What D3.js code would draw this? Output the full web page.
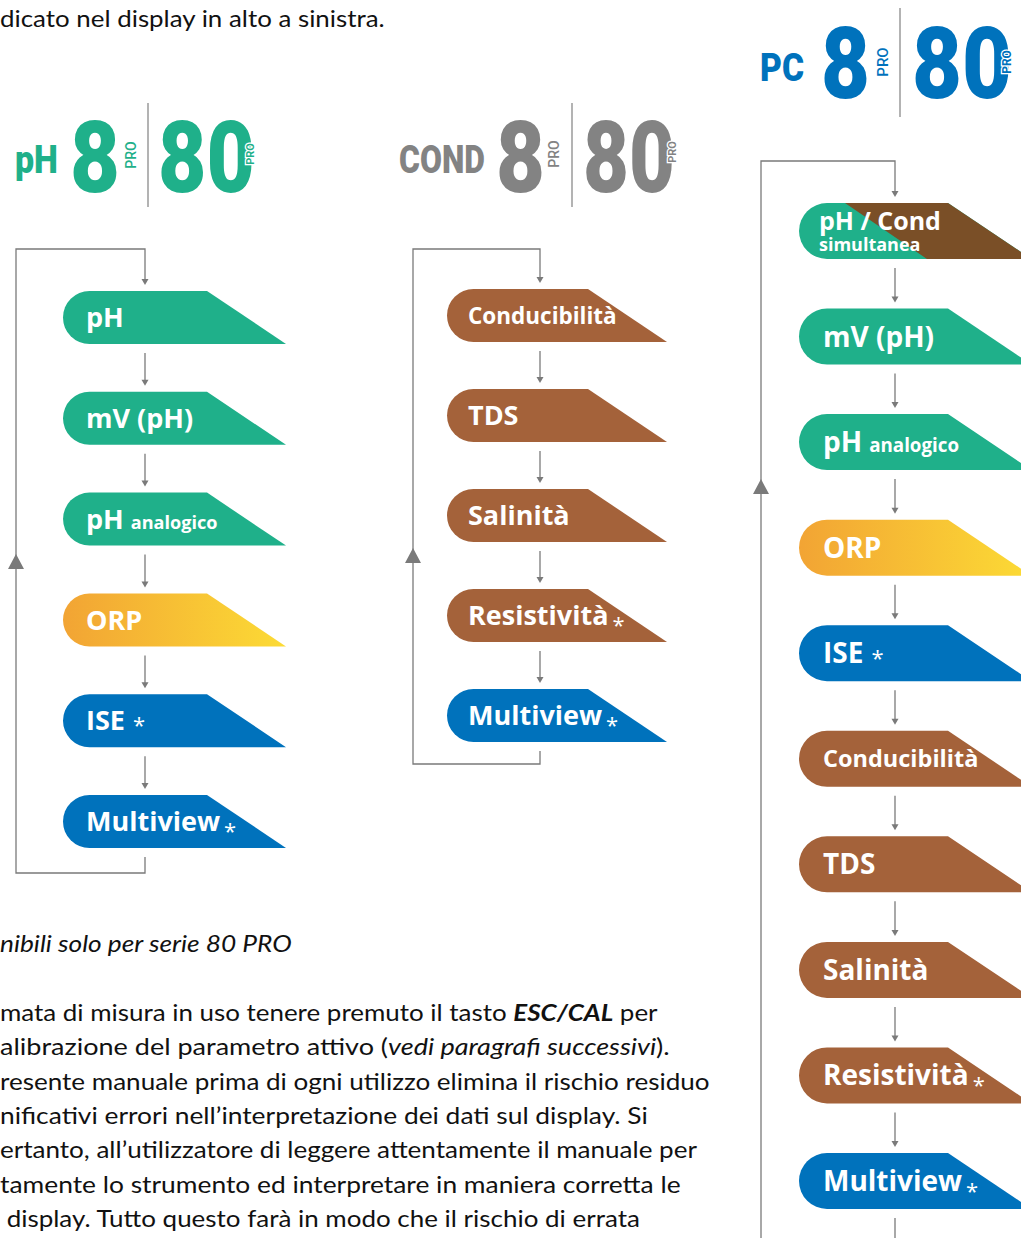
<!DOCTYPE html>
<html><head><meta charset="utf-8">
<script src="https://cdn.jsdelivr.net/npm/d3@7"></script>
<style>
html,body{margin:0;padding:0;background:#fff;}
svg{display:block;}
</style></head><body>
<svg id="chart" width="1021" height="1238"></svg>
<script>
// ---------------- data ----------------
const phModes = ["pH", "mV (pH)", "pH analogico", "ORP", "ISE *", "Multiview *"];
const condModes = ["Conducibilità", "TDS", "Salinità", "Resistività *", "Multiview *"];
const pcModes = ["pH / Cond simultanea", "mV (pH)", "pH analogico", "ORP", "ISE *",
                 "Conducibilità", "TDS", "Salinità", "Resistività *", "Multiview *"];
const families = ["ph", "orp", "ise", "cond", "phcond"];
const modeFamily = {
  "pH": "ph", "mV (pH)": "ph", "pH analogico": "ph", "ORP": "orp", "ISE *": "ise",
  "Multiview *": "ise", "Conducibilità": "cond", "TDS": "cond", "Salinità": "cond",
  "Resistività *": "cond", "pH / Cond simultanea": "phcond"
};
const modelNames = ["pH", "COND", "PC"];
const seriesNames = ["8", "80"];
const seriesTag = "PRO";
const introLines = ["dicato nel display in alto a sinistra."];
const footnoteLines = ["nibili solo per serie 80 PRO"];
const paragraphLines = [
  [["mata di misura in uso tenere premuto il tasto ", ""], ["ESC/CAL", "bi"], [" per", ""]],
  [["alibrazione del parametro attivo (", ""], ["vedi paragrafi successivi", "i"], [").", ""]],
  [["resente manuale prima di ogni utilizzo elimina il rischio residuo", ""]],
  [["nificativi errori nell’interpretazione dei dati sul display. Si", ""]],
  [["ertanto, all’utilizzatore di leggere attentamente il manuale per", ""]],
  [["tamente lo strumento ed interpretare in maniera corretta le", ""]],
  [[" display. Tutto questo farà in modo che il rischio di errata", ""]]
];

// ---------------- styles / layout ----------------
const TEAL = "#1fb08a", BROWN = "#a4623a", DARKBROWN = "#7a4f27", BLUE = "#0072bc";
const GREY_TXT = "#838383", LINE = "#7a7a7a";
const svg = d3.select("#chart");
const defs = svg.append("defs");
const grad = defs.append("linearGradient").attr("id", "orpGrad")
  .attr("x1", 0).attr("x2", 1).attr("y1", 0).attr("y2", 0);
grad.append("stop").attr("offset", "0%").attr("stop-color", "#f2a434");
grad.append("stop").attr("offset", "100%").attr("stop-color", "#fcdb35");

const famColor = d3.scaleOrdinal().domain(families)
  .range([TEAL, "url(#orpGrad)", BLUE, BROWN, TEAL]);

const LABEL_FONT = "'Open Sans', 'Noto Sans', sans-serif";
const BODY_FONT = "Lato, 'Open Sans', sans-serif";
const HEAD_FONT = "Roboto, 'Liberation Sans', sans-serif";

// text fitted horizontally to a given width by a scale transform
function fitText(g, str, x, base, width, size, weight, color) {
  const t = g.append("text").text(str).attr("font-family", HEAD_FONT)
    .attr("font-weight", weight).attr("font-size", size).attr("fill", color);
  const bb = t.node().getBBox();
  const k = width / bb.width;
  t.attr("transform", `translate(${x - bb.x * k},${base}) scale(${k},1)`);
  return t;
}

// ---------------- headers ----------------
const headers = [
  {name: modelNames[0], color: TEAL, lx: 15, lw: 43, lbase: 173, lfs: 39,
   ex: 70, ew: 50, dbase: 192, dfs: 101, p1x: 136, p1y: 155, p1fs: 14,
   divx: 148, divt: 103, divb: 207, eyx: 158, eyw: 97, p2x: 254, p2y: 154, p2fs: 11},
  {name: modelNames[1], color: GREY_TXT, lx: 399, lw: 86, lbase: 173, lfs: 39,
   ex: 496, ew: 49, dbase: 192, dfs: 101, p1x: 559, p1y: 154, p1fs: 14,
   divx: 572, divt: 103, divb: 207, eyx: 583, eyw: 92, p2x: 676, p2y: 152, p2fs: 11},
  {name: modelNames[2], color: BLUE, lx: 760, lw: 44, lbase: 81, lfs: 39,
   ex: 821, ew: 49, dbase: 98, dfs: 101, p1x: 888, p1y: 62, p1fs: 15,
   divx: 900, divt: 8, divb: 117, eyx: 912, eyw: 100, p2x: 1011, p2y: 62, p2fs: 12}
];

headers.forEach(hd => {
  const g = svg.append("g");
  fitText(g, hd.name, hd.lx, hd.lbase, hd.lw, hd.lfs, 900, hd.color);
  fitText(g, seriesNames[0], hd.ex, hd.dbase, hd.ew, hd.dfs, 900, hd.color);
  g.append("text").attr("transform", `translate(${hd.p1x},${hd.p1y}) rotate(-90)`)
    .attr("text-anchor", "middle").text(seriesTag)
    .attr("font-family", HEAD_FONT).attr("font-weight", 500).attr("font-size", hd.p1fs)
    .attr("fill", hd.color);
  g.append("line").attr("x1", hd.divx).attr("x2", hd.divx).attr("y1", hd.divt).attr("y2", hd.divb)
    .attr("stroke", "#9a9a9a").attr("stroke-width", 1.5);
  fitText(g, seriesNames[1], hd.eyx, hd.dbase, hd.eyw, hd.dfs, 900, hd.color);
  g.append("text").attr("transform", `translate(${hd.p2x},${hd.p2y}) rotate(-90)`)
    .attr("text-anchor", "middle").text(seriesTag)
    .attr("font-family", HEAD_FONT).attr("font-weight", 700).attr("font-size", hd.p2fs)
    .attr("fill", hd.color).attr("stroke", "#fff").attr("stroke-width", 2.5)
    .attr("paint-order", "stroke");
});

// ---------------- flow columns ----------------
const columns = [
  {modes: phModes, left: 63, slant: 144, h: 53, top0: 291, topN: 795, cx: 145,
   loopX: 16, loopTop: 249, loopBottom: 873, triY: 562, fs: 27, textX: 86},
  {modes: condModes, left: 447, slant: 141, h: 53, top0: 289, topN: 689, cx: 540,
   loopX: 413, loopTop: 249, loopBottom: 764, triY: 556, fs: 27, textX: 468},
  {modes: pcModes, left: 799, slant: 149, h: 56, top0: 203, topN: 1153, cx: 895,
   loopX: 761, loopTop: 161, loopBottom: 1270, triY: 487, fs: 28, textX: 823}
];
const SLOPE = 79 / 53;

function shapePath(l, d, t, h) {
  const r = h / 2, rgt = d + SLOPE * h;
  return `M${l + r},${t}L${d},${t}L${rgt},${t + h}L${l + r},${t + h}A${r},${r} 0 0 1 ${l + r},${t}Z`;
}

function arrowHead(g, x, tip, w, hh) {
  g.append("path").attr("d", `M${x - w / 2},${tip - hh}L${x + w / 2},${tip - hh}L${x},${tip}Z`)
    .attr("fill", LINE);
}

columns.forEach((col, ci) => {
  const g = svg.append("g");
  const y = d3.scalePoint().domain(col.modes).range([col.top0, col.topN]);
  const n = col.modes.length;
  const diagX = col.left + col.slant;

  // connectors between consecutive modes
  d3.pairs(col.modes).forEach(([a, b]) => {
    const y0 = y(a) + col.h + 9, tip = y(b) - 6;
    g.append("line").attr("x1", col.cx).attr("x2", col.cx).attr("y1", y0).attr("y2", tip - 5)
      .attr("stroke", LINE).attr("stroke-width", 1.3);
    arrowHead(g, col.cx, tip, 7, 6);
  });

  // loop back
  const last = col.modes[n - 1], first = col.modes[0];
  g.append("path")
    .attr("d", `M${col.cx},${y(last) + col.h + 9}V${col.loopBottom}H${col.loopX}V${col.loopTop}H${col.cx}V${y(first) - 11}`)
    .attr("fill", "none").attr("stroke", LINE).attr("stroke-width", 1.3);
  arrowHead(g, col.cx, y(first) - 6, 7, 6);
  g.append("path")
    .attr("d", `M${col.loopX - 8},${col.triY + 7}L${col.loopX + 8},${col.triY + 7}L${col.loopX},${col.triY - 8}Z`)
    .attr("fill", LINE);

  // shapes
  col.modes.forEach((m, mi) => {
    const t = y(m), fam = modeFamily[m];
    const d = shapePath(col.left, diagX, t, col.h);
    g.append("path").attr("d", d).attr("fill", famColor(fam));
    if (fam === "phcond") {
      const cid = `clip${ci}_${mi}`;
      defs.append("clipPath").attr("id", cid).append("path").attr("d", d);
      g.append("path")
        .attr("d", `M${col.left + 46},${t}L${col.left + 260},${t}L${col.left + 260},${t + col.h}L${col.left + 128},${t + col.h}Z`)
        .attr("fill", DARKBROWN).attr("clip-path", `url(#${cid})`);
    }
    const fs = m === "Conducibilità" ? col.fs - 4.5 : col.fs;
    const base = t + col.h / 2 + 0.357 * fs;
    const txt = g.append("text").attr("font-family", LABEL_FONT).attr("font-weight", 700)
      .attr("fill", "#fff");
    if (fam === "phcond") {
      const parts = m.split(" simultanea");
      txt.attr("x", col.textX - 4).attr("y", t + 27);
      txt.append("tspan").attr("font-size", 25).text(parts[0]);
      txt.append("tspan").attr("x", col.textX - 4).attr("dy", 21)
        .attr("font-size", 18).text("simultanea");
    } else if (m === "pH analogico") {
      txt.attr("x", col.textX).attr("y", base).attr("font-size", fs);
      txt.append("tspan").text("pH");
      txt.append("tspan").attr("dx", 7).attr("font-size", fs * 0.67).text("analogico");
    } else if (m.endsWith(" *")) {
      const main = m.slice(0, -2);
      txt.attr("x", col.textX).attr("y", base).attr("font-size", fs);
      txt.append("tspan").text(main);
      const small = main === "ISE";
      txt.append("tspan").attr("dx", small ? 8 : 4).attr("dy", small ? 3 : 8)
        .attr("font-size", 22).attr("font-weight", 400).text("*");
    } else {
      txt.attr("x", col.textX).attr("y", base).attr("font-size", fs).text(m);
    }
  });
});

// ---------------- body text ----------------
function bodyLine(parts, x0, baseline, rightEdge, size) {
  const t = svg.append("text").attr("font-family", BODY_FONT).attr("font-size", size)
    .attr("fill", "#111").style("white-space", "pre");
  parts.forEach(([s, st]) => {
    t.append("tspan").text(s)
      .attr("font-weight", st.includes("b") ? 700 : 400)
      .attr("font-style", st.includes("i") ? "italic" : "normal");
  });
  const w = t.node().getComputedTextLength();
  const k = (rightEdge - x0) / w;
  t.attr("transform", `translate(${x0},${baseline}) scale(${k},1)`);
}

bodyLine([[introLines[0], ""]], 0, 27, 385, 22.5);
bodyLine([[footnoteLines[0], "i"]], 0, 952, 292, 22.5);
const paraRight = [658, 670, 710, 648, 697, 681, 640];
paragraphLines.forEach((p, i) => bodyLine(p, 0, 1021 + i * 34.3, paraRight[i], 22.5));
</script>
</body></html>
